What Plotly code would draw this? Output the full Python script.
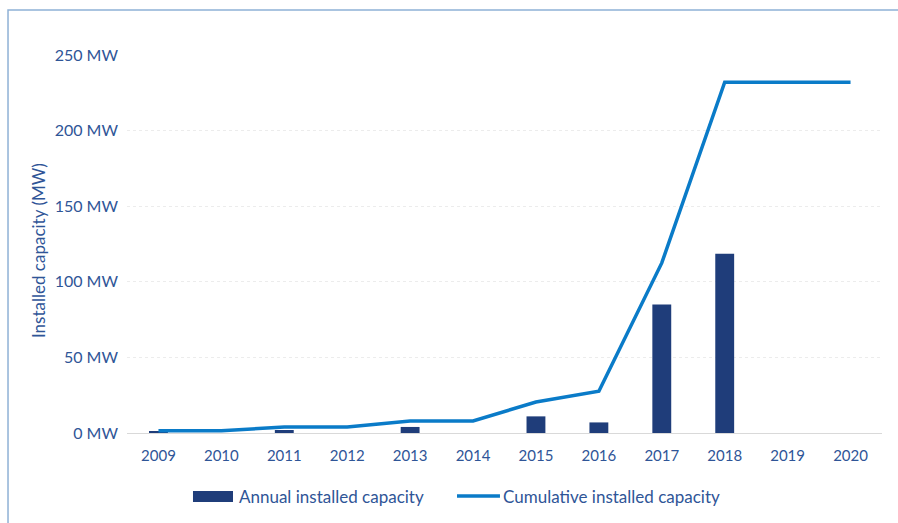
import plotly.graph_objects as go

years = ["2009", "2010", "2011", "2012", "2013", "2014", "2015", "2016", "2017", "2018", "2019", "2020"]
annual = [1, 0, 2, 0, 4, 0, 11, 7, 85, 118.5, 0, 0]
cumulative = [1.5, 1.5, 4, 4, 8, 8, 20.5, 27.6, 112.5, 232, 232, 232]
y_ticks = [0, 50, 100, 150, 200, 250]
y_labels = ["0 MW", "50 MW", "100 MW", "150 MW", "200 MW", "250 MW"]
bar_name = "Annual installed capacity"
line_name = "Cumulative installed capacity"
y_title = "Installed capacity (MW)"

font_family = "Lato, 'Open Sans', sans-serif"
text_color = "#2F5597"
bar_color = "#1F3D7A"
line_color = "#0A7BC8"

fig = go.Figure()
fig.add_trace(go.Bar(
    x=years, y=annual, name=bar_name, showlegend=False,
    marker=dict(color=bar_color, line=dict(width=0)), width=0.3,
))
fig.add_trace(go.Scatter(
    x=years, y=cumulative, name=line_name, showlegend=False,
    mode="lines", line=dict(color=line_color, width=3.5),
))

fig.update_layout(
    width=898, height=523,
    margin=dict(l=127, r=16, t=55, b=90),
    paper_bgcolor="white", plot_bgcolor="white",
    font=dict(family=font_family, size=15, color=text_color),
    showlegend=False,
)
fig.update_xaxes(
    type="category", showgrid=False, showline=False, ticks="", automargin=False,
    ticklabelstandoff=12,
    tickfont=dict(size=15, color=text_color),
)
fig.update_yaxes(
    range=[0, 250], tickvals=y_ticks, ticktext=y_labels, automargin=False,
    showgrid=True, gridcolor="#ECECEC", griddash="dot", gridwidth=1,
    zeroline=True, zerolinecolor="#D9D9D9", zerolinewidth=1,
    showline=False, ticks="", ticklabelstandoff=8,
    tickfont=dict(size=16, color=text_color),
)

# y-axis title
fig.add_annotation(text=y_title, xref="paper", yref="paper", x=-0.1179, y=0.484,
                   textangle=-90, showarrow=False, xanchor="center", yanchor="middle",
                   font=dict(size=17, color=text_color))

# custom legend
fig.add_shape(type="rect", xref="paper", yref="paper", x0=0.0874, x1=0.1404,
              y0=-0.1825, y1=-0.1534, fillcolor=bar_color, line=dict(width=0))
fig.add_annotation(text=bar_name, xref="paper", yref="paper", x=0.1457, y=-0.1667,
                   xanchor="left", yanchor="middle", showarrow=False,
                   font=dict(size=17, color=text_color))
fig.add_shape(type="line", xref="paper", yref="paper", x0=0.4371, x1=0.494,
              y0=-0.1667, y1=-0.1667, line=dict(color=line_color, width=3.5))
fig.add_annotation(text=line_name, xref="paper", yref="paper", x=0.4955, y=-0.1667,
                   xanchor="left", yanchor="middle", showarrow=False,
                   font=dict(size=17, color=text_color))

# outer frame (right and bottom edges fall outside the picture)
fig.add_shape(type="rect", xref="paper", yref="paper",
              x0=-0.1576, x1=1.06, y0=-0.3, y1=1.119,
              line=dict(color="#8FB1D6", width=1.5), fillcolor="rgba(0,0,0,0)", layer="below")

fig.write_html("out.html")
